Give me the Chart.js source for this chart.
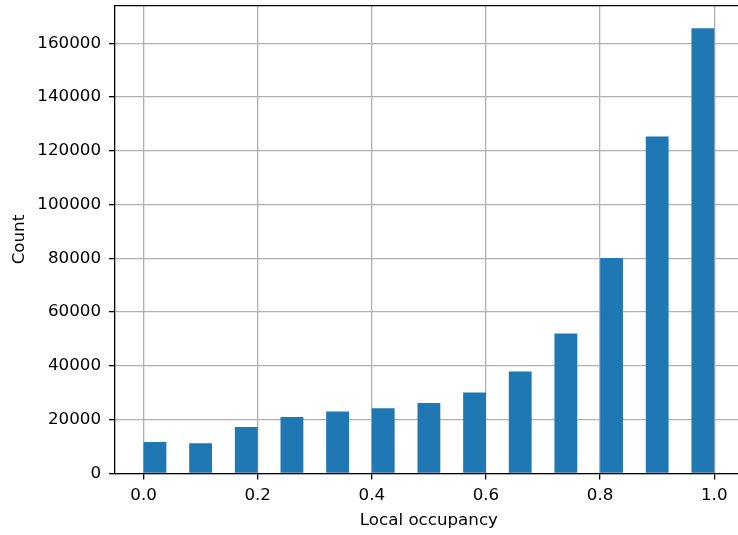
<!DOCTYPE html>
<html>
<head>
<meta charset="utf-8">
<script src="https://cdn.jsdelivr.net/npm/chart.js@4"></script>
<style>
  html, body { margin: 0; padding: 0; background: #fff; overflow: hidden; width: 738px; height: 535px; }
  #wrap { position: absolute; left: 0; top: 0; width: 800px; height: 535px; }
</style>
</head>
<body>
<div id="wrap"><canvas id="c"></canvas></div>
<script>
// Histogram bins (centres)
const binCenters = [0.02, 0.10, 0.18, 0.26, 0.34, 0.42, 0.50, 0.58, 0.66, 0.74, 0.82, 0.90, 0.98];
const counts = [11700, 11200, 17300, 21000, 23000, 24250, 26230, 30070, 37900, 52050, 80100, 125300, 165600];
const xTicks = [0.0, 0.2, 0.4, 0.6, 0.8, 1.0];
const yTicks = [0, 20000, 40000, 60000, 80000, 100000, 120000, 140000, 160000];
const xTitle = 'Local occupancy';
const yTitle = 'Count';

const FONT = { family: "'DejaVu Sans', sans-serif", size: 16.7 };
const LW = 1.3;

const topSpine = {
  id: 'topSpine',
  afterDraw(chart) {
    const { ctx, chartArea } = chart;
    ctx.save();
    ctx.strokeStyle = '#000';
    ctx.lineWidth = LW;
    ctx.beginPath();
    ctx.moveTo(chartArea.left, chartArea.top);
    ctx.lineTo(chartArea.right, chartArea.top);
    ctx.stroke();
    ctx.restore();
  }
};

new Chart(document.getElementById('c'), {
  type: 'bar',
  data: {
    datasets: [{
      data: binCenters.map((x, i) => ({ x: x, y: counts[i] })),
      backgroundColor: '#1f77b4',
      borderWidth: 0,
      barPercentage: 0.5,
      categoryPercentage: 1.0
    }]
  },
  options: {
    responsive: true,
    maintainAspectRatio: false,
    animation: false,
    layout: { padding: { left: 0, right: 57.2, top: 5.7, bottom: 0 } },
    plugins: { legend: { display: false }, tooltip: { enabled: false } },
    scales: {
      x: {
        type: 'linear',
        min: -0.05,
        max: 1.05,
        offset: false,
        z: 1,
        afterBuildTicks: s => { s.ticks = xTicks.map(v => ({ value: v })); },
        afterFit: s => { s.height = 61.6; s.paddingLeft = 0; s.paddingRight = 0; },
        grid: { color: '#b0b0b0', lineWidth: LW, tickColor: '#000', tickWidth: LW, tickLength: 6, offset: false },
        border: { color: '#000', width: LW },
        ticks: { font: FONT, color: '#000', padding: 6, maxRotation: 0, callback: v => Number(v).toFixed(1) },
        title: { display: true, text: xTitle, font: FONT, color: '#000', padding: { top: 0, bottom: 4 } }
      },
      y: {
        type: 'linear',
        min: 0,
        max: 174000,
        z: 1,
        afterBuildTicks: s => { s.ticks = yTicks.map(v => ({ value: v })); },
        afterFit: s => { s.width = 115; s.paddingTop = 0; s.paddingBottom = 0; },
        grid: { color: '#b0b0b0', lineWidth: LW, tickColor: '#000', tickWidth: LW, tickLength: 6 },
        border: { color: '#000', width: LW },
        ticks: { font: FONT, color: '#000', padding: 8, callback: v => String(v) },
        title: { display: true, text: yTitle, font: FONT, color: '#000', padding: { top: 10, bottom: 0 } }
      }
    }
  },
  plugins: [topSpine]
});
</script>
</body>
</html>
